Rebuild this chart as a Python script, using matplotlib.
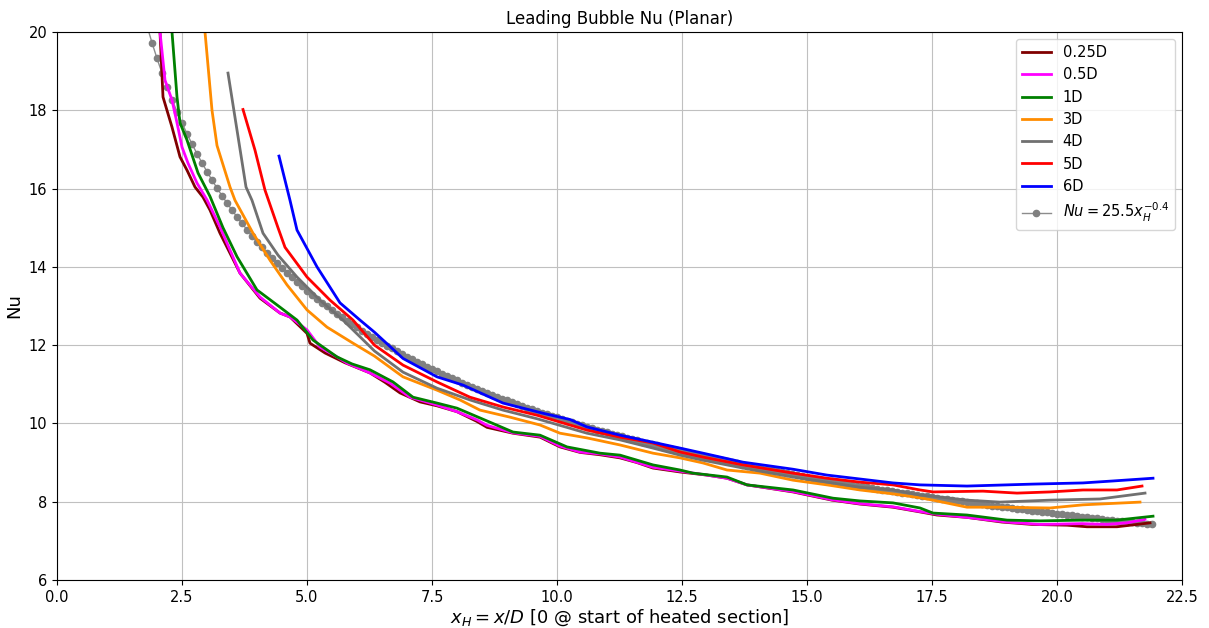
import numpy as np
import matplotlib
matplotlib.use("Agg")
import matplotlib.pyplot as plt

# Leading-bubble Nusselt number vs. heated-section position, one curve per spacing
x_025 = [2.06, 2.12, 2.3, 2.46, 2.6, 2.76, 2.92, 3.06, 3.26, 3.66, 4.06, 4.46, 4.66, 5.0, 5.06,
         5.36, 5.76, 6.26, 6.56, 6.86, 7.26, 7.6, 8.0, 8.4, 8.6, 9.12, 9.66, 10.06, 10.46,
         10.86, 11.26, 11.6, 11.92, 12.46, 13.0, 13.4, 13.8, 14.72, 15.5, 16.06, 16.72, 17.26,
         17.6, 18.2, 18.9, 19.5, 20.2, 20.6, 21.2, 21.6, 21.86]
nu_025 = [20.0, 18.34, 17.57, 16.81, 16.47, 16.04, 15.78, 15.45, 14.86, 13.84, 13.2, 12.82,
          12.72, 12.3, 12.05, 11.8, 11.55, 11.29, 11.05, 10.78, 10.55, 10.45, 10.3, 10.05, 9.9,
          9.75, 9.65, 9.4, 9.26, 9.2, 9.12, 9.0, 8.86, 8.76, 8.68, 8.6, 8.43, 8.25, 8.04, 7.94,
          7.86, 7.74, 7.66, 7.6, 7.48, 7.42, 7.4, 7.36, 7.36, 7.42, 7.46]

x_05 = [2.06, 2.16, 2.3, 2.4, 2.5, 2.62, 2.8, 3.0, 3.26, 3.66, 4.06, 4.46, 4.66, 5.0, 5.26,
        5.6, 5.8, 6.26, 6.66, 7.06, 7.6, 8.0, 8.4, 8.6, 9.12, 9.66, 10.06, 10.46, 10.86, 11.26,
        11.92, 12.46, 13.0, 13.4, 13.8, 14.72, 15.5, 16.06, 16.72, 17.26, 17.6, 18.2, 19.0,
        19.66, 20.5, 21.0, 21.4, 21.76]
nu_05 = [20.0, 18.77, 18.26, 17.68, 17.06, 16.65, 16.14, 15.71, 15.02, 13.84, 13.23, 12.82,
         12.72, 12.39, 11.95, 11.7, 11.54, 11.29, 11.03, 10.67, 10.47, 10.3, 10.09, 9.95, 9.76,
         9.67, 9.42, 9.27, 9.22, 9.14, 8.88, 8.78, 8.68, 8.6, 8.43, 8.26, 8.05, 7.95, 7.87, 7.75,
         7.68, 7.6, 7.48, 7.42, 7.44, 7.42, 7.46, 7.55]

x_1 = [2.3, 2.4, 2.46, 2.6, 2.82, 3.06, 3.32, 3.6, 4.0, 4.46, 4.8, 5.12, 5.6, 5.9, 6.26, 6.72,
       7.12, 7.6, 8.0, 8.46, 9.12, 9.66, 10.2, 10.86, 11.26, 11.92, 12.46, 12.72, 13.4, 13.8,
       14.72, 15.52, 16.06, 16.72, 17.26, 17.52, 18.2, 19.0, 19.66, 20.52, 21.2, 21.92]
nu_1 = [20.0, 18.34, 17.68, 17.24, 16.4, 15.8, 15.0, 14.26, 13.41, 12.97, 12.64, 12.13, 11.7,
        11.52, 11.37, 11.06, 10.67, 10.52, 10.39, 10.14, 9.78, 9.70, 9.40, 9.24, 9.19, 8.94,
        8.81, 8.73, 8.63, 8.43, 8.30, 8.09, 8.02, 7.97, 7.84, 7.71, 7.66, 7.53, 7.51, 7.53,
        7.53, 7.63]

x_3 = [2.96, 3.1, 3.2, 3.46, 3.56, 3.92, 4.26, 4.6, 5.0, 5.4, 5.92, 6.35, 6.92, 7.6, 8.06,
       8.46, 9.06, 9.66, 10.06, 10.6, 11.26, 11.92, 12.46, 12.92, 13.4, 14.06, 14.72, 15.4,
       16.06, 16.72, 17.26, 17.52, 18.2, 18.86, 19.86, 20.52, 21.66]
nu_3 = [20.0, 18.0, 17.1, 16.04, 15.7, 14.86, 14.17, 13.54, 12.9, 12.46, 12.05, 11.72, 11.19,
        10.85, 10.6, 10.34, 10.16, 9.96, 9.75, 9.63, 9.45, 9.24, 9.12, 8.99, 8.81, 8.73, 8.55,
        8.43, 8.30, 8.20, 8.10, 8.04, 7.86, 7.86, 7.84, 7.92, 7.99]

x_4 = [3.42, 3.78, 3.9, 4.12, 4.42, 4.8, 5.26, 5.72, 6.35, 6.92, 7.6, 8.26, 8.92, 9.6,
       10.6, 11.26, 11.92, 12.46, 12.92, 13.72, 14.72, 15.4, 16.06, 16.72, 17.26, 17.52, 18.2,
       18.86, 19.86, 20.86, 21.76]
nu_4 = [18.95, 16.04, 15.7, 14.86, 14.3, 13.74, 13.15, 12.64, 11.85, 11.31, 10.9, 10.6,
        10.34, 10.12, 9.75, 9.58, 9.37, 9.19, 9.06, 8.86, 8.63, 8.5, 8.37, 8.30, 8.17, 8.14,
        8.04, 7.99, 8.04, 8.07, 8.22]

x_5 = [3.72, 3.96, 4.16, 4.42, 4.56, 5.0, 5.46, 5.92, 6.35, 6.92, 7.6, 8.26, 8.92, 9.6, 10.6,
       11.26, 11.92, 12.46, 12.92, 13.72, 14.72, 15.4, 16.06, 16.72, 17.26, 17.52, 18.52, 19.2,
       19.86, 20.52, 21.2, 21.7]
nu_5 = [18.02, 16.98, 15.96, 15.0, 14.5, 13.74, 13.15, 12.64, 12.0, 11.49, 11.06, 10.67, 10.42,
        10.21, 9.83, 9.65, 9.50, 9.27, 9.14, 8.94, 8.73, 8.6, 8.50, 8.43, 8.30, 8.25, 8.27,
        8.22, 8.25, 8.30, 8.30, 8.40]

x_6 = [4.44, 4.66, 4.8, 5.2, 5.66, 6.06, 6.35, 6.92, 7.6, 8.12, 8.92, 9.72, 10.26, 10.6, 11.26,
       11.92, 12.46, 12.92, 13.72, 14.72, 15.4, 16.06, 16.72, 17.26, 18.2, 19.52, 20.52, 21.12,
       21.92]
nu_6 = [16.83, 15.7, 14.94, 14.0, 13.08, 12.64, 12.33, 11.66, 11.19, 10.98, 10.52, 10.26, 10.1,
        9.91, 9.70, 9.52, 9.37, 9.24, 9.01, 8.83, 8.68, 8.58, 8.48, 8.43, 8.40, 8.45, 8.48, 8.53,
        8.60]

# Power-law correlation Nu = 25.5 * x_H^-0.4
fit_coef = 25.5
fit_exp = -0.4
x_fit = np.round(np.arange(1.8, 21.95, 0.1), 2)
nu_fit = fit_coef * x_fit ** fit_exp

series = [
    ("0.25D", x_025, nu_025, "#800000"),
    ("0.5D", x_05, nu_05, "#ff00ff"),
    ("1D", x_1, nu_1, "#008000"),
    ("3D", x_3, nu_3, "#ff8c00"),
    ("4D", x_4, nu_4, "#707070"),
    ("5D", x_5, nu_5, "#ff0000"),
    ("6D", x_6, nu_6, "#0000ff"),
]

fig = plt.figure(figsize=(12.09, 6.28), dpi=100)
ax = fig.add_axes([57 / 1209, 1 - 580 / 628, 1125 / 1209, 548 / 628])

for label, xs, ys, color in series:
    ax.plot(xs, ys, color=color, lw=2.0, label=label, zorder=2.2)

ax.plot(x_fit, nu_fit, color="#8c8c8c", lw=1.0, marker="o", markersize=4.5,
        markerfacecolor="#808080", markeredgecolor="#808080",
        label=r"$Nu = 25.5x_H^{-0.4}$", zorder=2.0)

ax.set_xlim(0, 22.5)
ax.set_ylim(6, 20)
ax.set_xticks(np.arange(0, 22.51, 2.5))
ax.set_yticks(np.arange(6, 20.1, 2))
ax.tick_params(labelsize=10.5)
ax.grid(True, color="#c0c0c0", lw=0.8)

ax.set_title("Leading Bubble Nu (Planar)", fontsize=12)
ax.set_xlabel(r"$x_H = x/D$ [0 @ start of heated section]", fontsize=13, labelpad=2)
ax.set_ylabel("Nu", fontsize=13)

ax.legend(loc="upper right", fontsize=10.5, framealpha=0.8)

fig.savefig("out.png", dpi=100)
